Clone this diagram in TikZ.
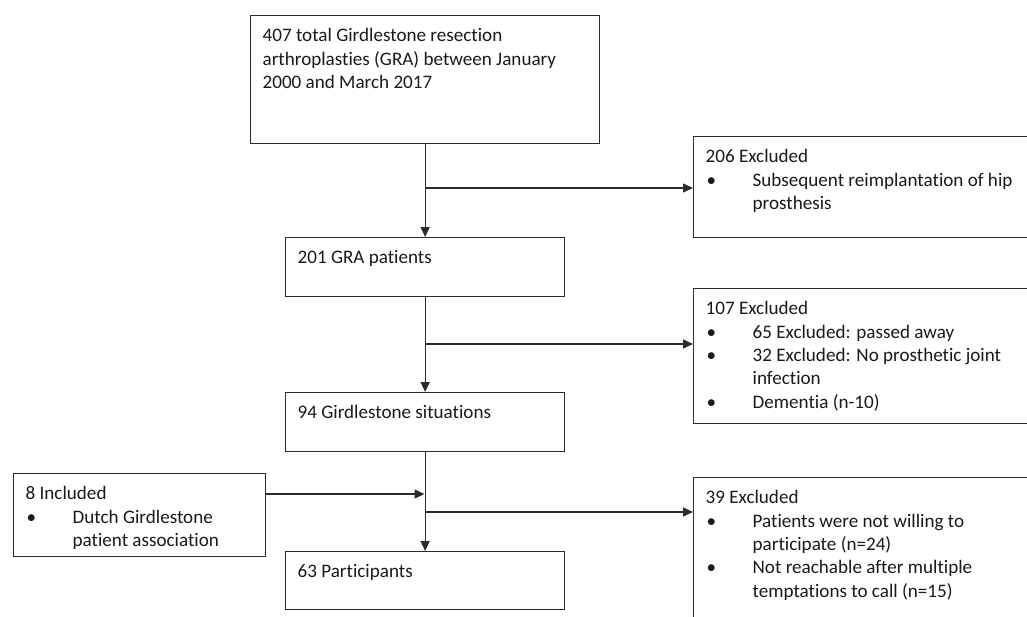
\documentclass[tikz,border=0pt]{standalone}
\usepackage{fontspec}
\setmainfont{Carlito}[Ligatures=NoCommon]
\usetikzlibrary{arrows.meta}
\definecolor{ink}{HTML}{1A1A1A}
\definecolor{edge}{HTML}{2B2B2B}
\newcommand{\flowcell}[3]{\parbox[t][#2][t]{#1}{\leftskip=12pt\rightskip=0pt plus 1fil\fontsize{19.1}{23.4}\selectfont\rule{0pt}{26pt}#3}}
\newcommand{\bitem}{\par\hangindent=47pt\hangafter=1\noindent\makebox[47pt][l]{\hspace{1pt}\textbullet}}
\tikzset{
  cell/.style={draw=edge, line width=1.3pt, inner sep=0pt, anchor=north west, text=ink},
  arr/.style={draw=edge, line width=1.3pt, -{Triangle[length=10pt,width=9pt]}},
}
\begin{document}
\begin{tikzpicture}[x=1pt,y=-1pt]
\useasboundingbox (0,0) rectangle (1027,616);
\fill[white] (0,0) rectangle (1027,616);
\clip (0,0) rectangle (1027,616);
\node[cell] (gra) at (250,15) {\flowcell{349pt}{128pt}{407 total Girdlestone resection\newline arthroplasties (GRA) between January\newline 2000 and March 2017}};
\node[cell] (ex1) at (693,136) {\flowcell{345pt}{101pt}{206 Excluded\bitem Subsequent reimplantation of hip\newline prosthesis}};
\node[cell] (p201) at (285,237) {\flowcell{279pt}{59pt}{201 GRA patients}};
\node[cell] (ex2) at (693,288) {\flowcell{345pt}{135pt}{107 Excluded\bitem 65 Excluded: passed away\bitem 32 Excluded: No prosthetic joint\newline infection\bitem Dementia (n-10)}};
\node[cell] (p94) at (285,392) {\flowcell{279pt}{59pt}{94 Girdlestone situations}};
\node[cell] (inc) at (13,473) {\flowcell{252pt}{83pt}{8 Included\bitem Dutch Girdlestone\newline patient association}};
\node[cell] (ex3) at (693,477) {\flowcell{345pt}{150pt}{39 Excluded\bitem Patients were not willing to\newline participate (n=24)\bitem Not reachable after multiple\newline temptations to call (n=15)}};
\node[cell] (p63) at (285,551) {\flowcell{279pt}{58pt}{63 Participants}};
\coordinate (j1) at (424.5,188);
\coordinate (j2) at (424.5,344);
\coordinate (j3) at (424.5,494);
\coordinate (j4) at (424.5,512);
\draw[arr] (gra.south) -- (gra.south |- p201.north);
\draw[arr] (j1) -- (j1 -| ex1.west);
\draw[arr] (p201.south) -- (p201.south |- p94.north);
\draw[arr] (j2) -- (j2 -| ex2.west);
\draw[arr] (p94.south) -- (p94.south |- p63.north);
\draw[arr] (inc.east |- j3) -- (j3);
\draw[arr] (j4) -- (j4 -| ex3.west);
\end{tikzpicture}
\end{document}
